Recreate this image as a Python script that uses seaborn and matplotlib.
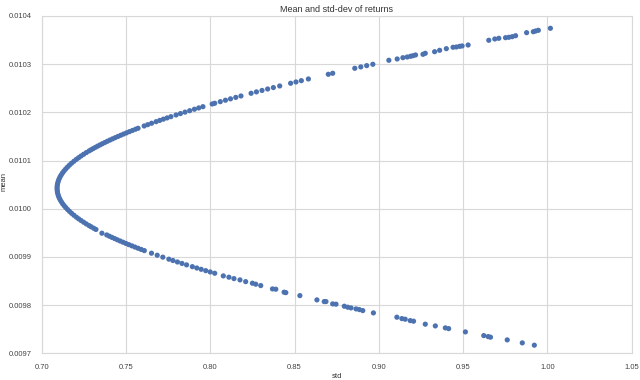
import matplotlib
matplotlib.use("Agg")
import matplotlib.pyplot as plt
import numpy as np
import pandas as pd
import seaborn as sns

# ── data (std, mean of portfolio returns) ──
# upper branch, dense part near the vertex then the sparser tail
std_upper = [
    0.70911, 0.70916, 0.70932, 0.70957, 0.70993, 0.71039, 0.71095, 0.71162, 0.71238, 0.71325,
    0.71422, 0.71529, 0.71645, 0.71772, 0.71909, 0.72055, 0.72191, 0.72335, 0.72486, 0.72644,
    0.72810, 0.72932, 0.73059, 0.73189, 0.73322, 0.73460, 0.73601, 0.73745, 0.73893, 0.74045,
    0.74200, 0.74359, 0.74521, 0.74686, 0.74855, 0.75028, 0.75204, 0.75383, 0.75565, 0.75714,
    0.76078, 0.76288, 0.76518, 0.76786, 0.77000, 0.77218, 0.77439, 0.77663, 0.77970, 0.78229,
    0.78501, 0.78778, 0.79058, 0.79314, 0.79564, 0.80113, 0.80262, 0.80594, 0.80899, 0.81199,
    0.81512, 0.81819, 0.82421, 0.82737, 0.83069, 0.83403, 0.83742, 0.84118, 0.84766, 0.85083,
    0.85402, 0.85820, 0.87001, 0.87262, 0.88572, 0.88930, 0.89279, 0.89643,
    0.90594, 0.91088, 0.91427, 0.91683, 0.91880, 0.92022, 0.92177, 0.92618, 0.92754, 0.93308,
    0.93606, 0.94004, 0.94403, 0.94600, 0.94796, 0.94939, 0.95296, 0.96522, 0.96879, 0.97117,
    0.97516, 0.97713, 0.97915, 0.98111, 0.98766, 0.99165, 0.99302, 0.99462, 1.00177,
]
mean_upper = [
    0.0100425, 0.0100465, 0.0100505, 0.0100545, 0.0100585, 0.0100625, 0.0100665, 0.0100705, 0.0100745, 0.0100785,
    0.0100825, 0.0100865, 0.0100905, 0.0100945, 0.0100985, 0.0101025, 0.0101060, 0.0101095, 0.0101130, 0.0101165,
    0.0101200, 0.0101225, 0.0101250, 0.0101275, 0.0101300, 0.0101325, 0.0101350, 0.0101375, 0.0101400, 0.0101425,
    0.0101450, 0.0101475, 0.0101500, 0.0101525, 0.0101550, 0.0101575, 0.0101600, 0.0101625, 0.0101650, 0.0101670,
    0.0101718, 0.0101745, 0.0101774, 0.0101807, 0.0101833, 0.0101859, 0.0101885, 0.0101911, 0.0101946, 0.0101975,
    0.0102005, 0.0102035, 0.0102065, 0.0102092, 0.0102118, 0.0102174, 0.0102189, 0.0102222, 0.0102252, 0.0102281,
    0.0102311, 0.0102340, 0.0102396, 0.0102425, 0.0102455, 0.0102485, 0.0102515, 0.0102548, 0.0102604, 0.0102631,
    0.0102658, 0.0102693, 0.0102790, 0.0102811, 0.0102915, 0.0102943, 0.0102970, 0.0102998,
    0.0103081, 0.0103108, 0.0103135, 0.0103149, 0.0103164, 0.0103176, 0.0103191, 0.0103205, 0.0103226, 0.0103259,
    0.0103288, 0.0103322, 0.0103351, 0.0103357, 0.0103371, 0.0103378, 0.0103398, 0.0103496, 0.0103523, 0.0103537,
    0.0103550, 0.0103558, 0.0103571, 0.0103591, 0.0103654, 0.0103674, 0.0103689, 0.0103703, 0.0103745,
]

# lower branch
std_lower = [
    0.70916, 0.70932, 0.70957, 0.70993, 0.71039, 0.71095, 0.71162, 0.71238, 0.71325, 0.71422,
    0.71529, 0.71645, 0.71772, 0.71909, 0.72055, 0.72191, 0.72335, 0.72486, 0.72644, 0.72810,
    0.72932, 0.73085, 0.73215, 0.73571,
    0.73858, 0.74014, 0.74169, 0.74327, 0.74488, 0.74653, 0.74822, 0.74993, 0.75168, 0.75346,
    0.75528, 0.75714, 0.75902, 0.76086, 0.76511, 0.76851, 0.77184, 0.77542, 0.77785, 0.78050,
    0.78319, 0.78593, 0.78936, 0.79200, 0.79458, 0.79729, 0.79994, 0.80262,
    0.80773, 0.81106, 0.81404, 0.81761, 0.82100, 0.82499, 0.82696, 0.82993, 0.83690, 0.83886,
    0.84380, 0.84481, 0.85315, 0.86326, 0.86761, 0.86862, 0.87261, 0.87457, 0.87951, 0.88154,
    0.88350, 0.88648, 0.88844, 0.89046, 0.89677, 0.91070, 0.91368, 0.91564, 0.91862, 0.92058,
    0.92754, 0.93350, 0.93945, 0.94141, 0.95135, 0.96225, 0.96486, 0.96623, 0.97617, 0.98510,
    0.99224,
]
mean_lower = [
    0.0100385, 0.0100345, 0.0100305, 0.0100265, 0.0100225, 0.0100185, 0.0100145, 0.0100105, 0.0100065, 0.0100025,
    0.0099985, 0.0099945, 0.0099905, 0.0099865, 0.0099825, 0.0099790, 0.0099755, 0.0099720, 0.0099685, 0.0099650,
    0.0099625, 0.0099595, 0.0099570, 0.0099492,
    0.0099456, 0.0099430, 0.0099405, 0.0099380, 0.0099355, 0.0099330, 0.0099305, 0.0099280, 0.0099255, 0.0099230,
    0.0099205, 0.0099180, 0.0099155, 0.0099131, 0.0099077, 0.0099035, 0.0098995, 0.0098953, 0.0098925, 0.0098895,
    0.0098865, 0.0098835, 0.0098798, 0.0098770, 0.0098743, 0.0098715, 0.0098688, 0.0098661,
    0.0098606, 0.0098579, 0.0098550, 0.0098523, 0.0098487, 0.0098454, 0.0098434, 0.0098405, 0.0098336, 0.0098330,
    0.0098268, 0.0098259, 0.0098197, 0.0098108, 0.0098073, 0.0098073, 0.0098025, 0.0098019, 0.0097977, 0.0097956,
    0.0097942, 0.0097921, 0.0097907, 0.0097886, 0.0097838, 0.0097749, 0.0097720, 0.0097707, 0.0097678, 0.0097666,
    0.0097604, 0.0097568, 0.0097527, 0.0097512, 0.0097444, 0.0097367, 0.0097346, 0.0097334, 0.0097278, 0.0097216,
    0.0097168,
]

x_ticks = [0.70, 0.75, 0.80, 0.85, 0.90, 0.95, 1.00, 1.05]
y_ticks = [0.0097, 0.0098, 0.0099, 0.0100, 0.0101, 0.0102, 0.0103, 0.0104]

df = pd.DataFrame({"std": std_upper + std_lower, "mean": mean_upper + mean_lower})

# ── plot ──
sns.set_style("whitegrid", {"grid.color": "#d8d8d8", "axes.edgecolor": "#d8d8d8"})
plt.rcParams["font.family"] = ["Liberation Sans", "DejaVu Sans"]

fig = plt.figure(figsize=(6.4, 3.8), dpi=100)
ax = fig.add_axes([0.0652, 0.0703, 0.9218, 0.8876])

sns.scatterplot(data=df, x="std", y="mean", ax=ax, color="#4C72B0",
                s=14, linewidth=0, edgecolor="none")

ax.set_xlim(0.70, 1.05)
ax.set_ylim(0.0097, 0.0104)
ax.set_xticks(x_ticks)
ax.set_yticks(y_ticks)
ax.set_xticklabels([f"{v:.2f}" for v in x_ticks])
ax.set_yticklabels([f"{v:.4f}" for v in y_ticks])
ax.tick_params(labelsize=5.5, colors="#444444", pad=4)
ax.set_title("Mean and std-dev of returns", fontsize=6.5, color="#333333", pad=3)
ax.set_xlabel("std", fontsize=5.5, color="#333333", labelpad=2)
ax.set_ylabel("mean", fontsize=5.5, color="#333333")
ax.yaxis.set_label_coords(-0.0576, 0.51)

fig.savefig("out.png", dpi=100)
